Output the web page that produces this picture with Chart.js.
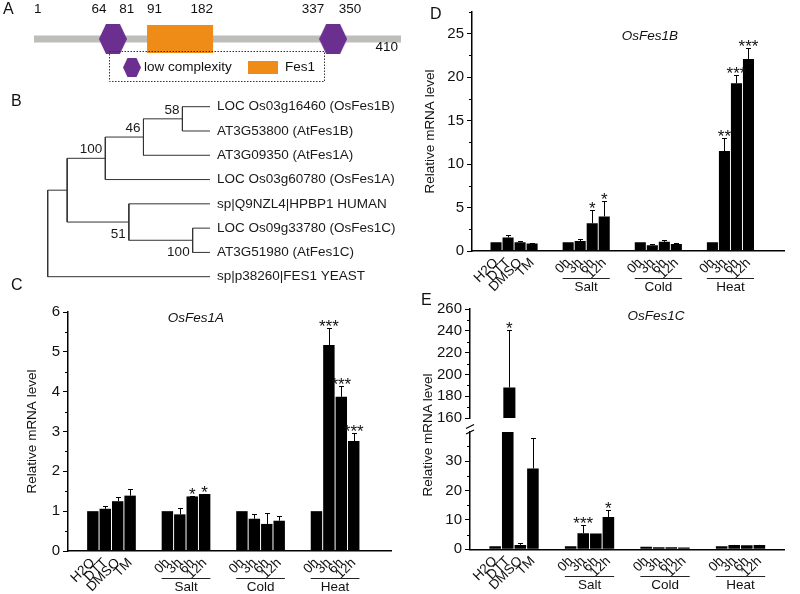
<!DOCTYPE html>
<html>
<head>
<meta charset="utf-8">
<script src="https://cdn.jsdelivr.net/npm/chart.js@4.4.1/dist/chart.umd.min.js"></script>
<style>
  html, body { margin: 0; padding: 0; background: #fff; }
  body { position: relative; width: 800px; height: 594px; overflow: hidden; font-family: 'Liberation Sans', Arial, sans-serif; color: #111; }
  canvas { position: absolute; }
  .panel { position: absolute; font-size: 16px; line-height: 16px; }
  .gene { position: absolute; font-size: 13.5px; font-style: italic; line-height: 16px; white-space: nowrap; transform: translate(-50%, -50%); }
  .ylab { position: absolute; font-size: 13.5px; line-height: 16px; white-space: nowrap; transform: translate(-50%, -50%) rotate(-90deg); }
</style>
</head>
<body>
<canvas id="chartA" width="420" height="90" style="left:0;top:0"></canvas>
<canvas id="chartB" width="420" height="212" style="left:0;top:88px"></canvas>
<canvas id="chartC" width="420" height="294" style="left:0;top:300px"></canvas>
<canvas id="chartD" width="390" height="300" style="left:410px;top:0"></canvas>
<canvas id="chartEtop" width="390" height="135" style="left:410px;top:295px"></canvas>
<canvas id="chartE" width="390" height="174" style="left:410px;top:420px"></canvas>

<div class="panel" style="left:3px;top:1px">A</div>
<div class="panel" style="left:11px;top:93px">B</div>
<div class="panel" style="left:11px;top:277px">C</div>
<div class="panel" style="left:430px;top:6px">D</div>
<div class="panel" style="left:421px;top:292px">E</div>

<div class="gene" style="left:196px;top:318px">OsFes1A</div>
<div class="gene" style="left:650px;top:36px">OsFes1B</div>
<div class="gene" style="left:656px;top:316px">OsFes1C</div>
<div class="ylab" style="left:428px;top:435px">Relative mRNA level</div>

<script>
const FONT = "'Liberation Sans', Arial, sans-serif";

// ---- A: protein domains ----
const proteinLength = 410;
const fes1Domain = [91, 182];
const lowComplexity = [[64, 81], [337, 350]];
const residueTicks = [1, 64, 81, 91, 182, 337, 350];

// ---- B: tree ----
const leafNames = [
    'LOC Os03g16460 (OsFes1B)', 'AT3G53800 (AtFes1B)', 'AT3G09350 (AtFes1A)',
    'LOC Os03g60780 (OsFes1A)', 'sp|Q9NZL4|HPBP1 HUMAN', 'LOC Os09g33780 (OsFes1C)',
    'AT3G51980 (AtFes1C)', 'sp|p38260|FES1 YEAST'
];
// children are leaf indexes or node keys, depth in branch units (root 0, tips 100)
const treeNodes = [
    { key: 'n58', kids: [0, 1], depth: 83, support: '58' },
    { key: 'n46', kids: ['n58', 2], depth: 59, support: '46' },
    { key: 'n100a', kids: ['n46', 3], depth: 35.5, support: '100' },
    { key: 'n100b', kids: [5, 6], depth: 89.3, support: '100', below: true },
    { key: 'n51', kids: [4, 'n100b'], depth: 50, support: '51', below: true },
    { key: 'nIn', kids: ['n100a', 'n51'], depth: 12, support: '' },
    { key: 'root', kids: ['nIn', 7], depth: 0, support: '' }
];

// ---- C, D, E: qRT-PCR ----
const treatLabels = ['H2O', 'DTT', 'DMSO', 'TM'];
const timeLabels = ['0h', '3h', '6h', '12h'];
const stressLabels = ['Salt', 'Cold', 'Heat'];

// order: H2O DTT DMSO TM | Salt 0h 3h 6h 12h | Cold ... | Heat ...
const fes1aMean = [1.00, 1.06, 1.25, 1.39, 1.00, 0.92, 1.37, 1.43, 1.00, 0.81, 0.68, 0.76, 1.00, 5.17, 3.87, 2.76];
const fes1aErr  = [1.00, 1.12, 1.36, 1.56, 1.00, 1.08, 1.39, 1.44, 1.00, 0.93, 0.95, 0.89, 1.00, 5.59, 4.15, 2.95];
const fes1aSig  = ['', '', '', '', '', '', '*', '*', '', '', '', '', '', '***', '***', '***'];

const fes1bMean = [1.00, 1.55, 1.00, 0.85, 1.00, 1.15, 3.20, 3.98, 1.00, 0.65, 1.05, 0.80, 1.00, 11.5, 19.3, 22.1];
const fes1bErr  = [1.00, 1.80, 1.10, 0.95, 1.00, 1.35, 4.75, 5.75, 1.00, 0.75, 1.30, 0.90, 1.00, 13.0, 20.2, 23.4];
const fes1bSig  = ['', '', '', '', '', '', '*', '*', '', '', '', '', '', '**', '***', '***'];

const fes1cMean = [1.0, 188, 1.5, 27.5, 1.0, 5.5, 5.4, 11.0, 0.9, 0.7, 0.7, 0.6, 1.0, 1.5, 1.4, 1.5];
const fes1cErr  = [1.0, 241, 2.1, 37.8, 1.0, 8.3, 5.4, 13.4, 0.9, 0.7, 0.7, 0.6, 1.0, 1.6, 1.4, 1.6];
const fes1cSig  = ['', '*', '', '', '', '***', '', '*', '', '', '', '', '', '', '', ''];

Chart.defaults.font.family = FONT;
Chart.defaults.font.size = 13.5;
Chart.defaults.color = '#111';
Chart.defaults.animation = false;
Chart.defaults.responsive = false;
Chart.defaults.devicePixelRatio = 1;
Chart.defaults.events = [];
Chart.defaults.plugins.legend.display = false;
Chart.defaults.plugins.tooltip.enabled = false;

// the domain drawing is schematic, not to scale: residues are spread piecewise along the bar
const schematicResidues = [1, 64, 81, 91, 182, 337, 350, 410];
const schematicStops = [0, 0.177, 0.253, 0.308, 0.488, 0.777, 0.853, 1];

class SchematicScale extends Chart.LinearScale {
    getPixelForValue(v) {
        const r = schematicResidues, f = schematicStops;
        let i = 0;
        while (i < r.length - 2 && v > r[i + 1]) i++;
        const t = f[i] + (v - r[i]) / (r[i + 1] - r[i]) * (f[i + 1] - f[i]);
        return this.getPixelForDecimal(t);
    }
}
SchematicScale.id = 'schematic';
SchematicScale.defaults = Chart.LinearScale.defaults;
Chart.register(SchematicScale);

function hexagon(w, h, color) {
    const c = document.createElement('canvas');
    c.width = w; c.height = h;
    const g = c.getContext('2d');
    g.fillStyle = color;
    g.beginPath();
    g.moveTo(0, h / 2); g.lineTo(w * 0.25, 0); g.lineTo(w * 0.75, 0);
    g.lineTo(w, h / 2); g.lineTo(w * 0.75, h); g.lineTo(w * 0.25, h);
    g.closePath(); g.fill();
    return c;
}

const purple = '#6b2f90';
const orange = '#ef8b17';
const backbone = '#bdbdb9';

const residueAlign = ['left', 'center', 'center', 'left', 'right', 'right', 'center'];
const residueShift = [0, 0, 0, 0, 0, 5, 3];

const domainText = {
    id: 'domainText',
    afterDraw(chart) {
        const ctx = chart.ctx, x = chart.scales.x;
        ctx.save();
        ctx.font = '13.5px ' + FONT;
        ctx.fillStyle = '#111';
        ctx.textBaseline = 'middle';
        residueTicks.forEach((r, i) => {
            ctx.textAlign = residueAlign[i];
            ctx.fillText(String(r), x.getPixelForValue(r) + residueShift[i], 9);
        });
        ctx.textAlign = 'right';
        ctx.fillText(String(proteinLength), x.getPixelForValue(proteinLength) - 3, 47);

        // legend box
        ctx.strokeStyle = '#333';
        ctx.lineWidth = 1;
        ctx.setLineDash([1.5, 1.5]);
        ctx.strokeRect(109.5, 51.5, 215, 30);
        ctx.setLineDash([]);
        ctx.drawImage(hexagon(18, 19, purple), 123, 58);
        ctx.textAlign = 'left';
        ctx.fillText('low complexity', 144, 67);
        ctx.fillStyle = orange;
        ctx.fillRect(248, 61, 30, 13);
        ctx.fillStyle = '#111';
        ctx.fillText('Fes1', 285, 67);
        ctx.restore();
    }
};

new Chart(document.getElementById('chartA'), {
    type: 'line',
    data: {
        datasets: [
            {
                data: lowComplexity.map(r => ({ x: (r[0] + r[1]) / 2, y: 0 })),
                showLine: false,
                pointStyle: hexagon(28, 30, purple),
                pointRadius: 14,
                order: 1,
                clip: false
            },
            {
                data: fes1Domain.map(v => ({ x: v, y: 0 })),
                borderColor: orange,
                borderWidth: 28,
                borderCapStyle: 'butt',
                pointRadius: 0,
                order: 2,
                clip: false
            },
            {
                data: [{ x: 1, y: 0 }, { x: proteinLength, y: 0 }],
                borderColor: backbone,
                borderWidth: 7,
                borderCapStyle: 'butt',
                pointRadius: 0,
                order: 3,
                clip: false
            }
        ]
    },
    options: {
        layout: { padding: { left: 34, right: 19, top: 3, bottom: 27 } },
        scales: {
            x: { type: 'schematic', min: 1, max: proteinLength, display: false },
            y: { type: 'linear', min: -1, max: 1, display: false }
        }
    },
    plugins: [domainText]
});

// ---- B ----
const nodeY = {}, nodeDepth = {};
function posOf(k) {
    if (typeof k === 'number') return { x: 100, y: k };
    return { x: nodeDepth[k], y: nodeY[k] };
}
treeNodes.forEach(n => {
    nodeDepth[n.key] = n.depth;
    nodeY[n.key] = (posOf(n.kids[0]).y + posOf(n.kids[1]).y) / 2;
});
const treeSegments = [];
treeNodes.forEach(n => {
    const a = posOf(n.kids[0]), b = posOf(n.kids[1]);
    treeSegments.push({ x: n.depth, y: a.y }, { x: n.depth, y: b.y }, { x: null, y: null });
    [a, b].forEach(p => treeSegments.push({ x: n.depth, y: p.y }, { x: p.x, y: p.y }, { x: null, y: null }));
});

const treeText = {
    id: 'treeText',
    afterDraw(chart) {
        const ctx = chart.ctx, x = chart.scales.x, y = chart.scales.y;
        ctx.save();
        ctx.fillStyle = '#1a1a1a';
        ctx.font = '13.5px ' + FONT;
        ctx.textAlign = 'left';
        ctx.textBaseline = 'middle';
        leafNames.forEach((name, i) => ctx.fillText(name, x.getPixelForValue(100) + 7, y.getPixelForValue(i)));
        ctx.textAlign = 'right';
        treeNodes.forEach(n => {
            if (!n.support) return;
            const px = x.getPixelForValue(n.depth) - 3;
            const py = y.getPixelForValue(nodeY[n.key]);
            ctx.textBaseline = n.below ? 'top' : 'bottom';
            ctx.fillText(n.support, px, n.below ? py + 5 : py - 2);
        });
        ctx.restore();
    }
};

new Chart(document.getElementById('chartB'), {
    type: 'line',
    data: { datasets: [{ data: treeSegments, borderColor: '#333', borderWidth: 1, pointRadius: 0, spanGaps: false, clip: false }] },
    options: {
        layout: { padding: { left: 47.7, right: 210, top: 18.7, bottom: 23.3 } },
        scales: {
            x: { type: 'linear', min: 0, max: 100, display: false },
            y: { type: 'linear', min: 0, max: 7, reverse: true, display: false }
        }
    },
    plugins: [treeText]
});

// ---- bar charts ----
function slotLayout(lead, trail) {
    const labels = [], slots = [];
    for (let i = 0; i < lead; i++) labels.push('');
    treatLabels.forEach(t => { slots.push(labels.length); labels.push(t); });
    stressLabels.forEach(() => {
        labels.push('', '');
        timeLabels.forEach(t => { slots.push(labels.length); labels.push(t); });
    });
    for (let i = 0; i < trail; i++) labels.push('');
    return { labels, slots };
}

function barExtras(s, slots) {
    return {
        id: 'barExtras',
        afterDatasetsDraw(chart) {
            const { ctx, chartArea } = chart;
            const y = chart.scales.y;
            const bars = chart.getDatasetMeta(0).data;
            ctx.save();
            ctx.strokeStyle = '#000';
            ctx.fillStyle = '#111';
            ctx.lineWidth = 1;
            slots.forEach((slot, k) => {
                const m = s.mean[k], e = s.err[k];
                if (m < y.min || m > y.max) return;
                const bar = bars[slot];
                let top = y.getPixelForValue(m);
                if (e > m) {
                    const ey = Math.round(y.getPixelForValue(e)) + 0.5;
                    const lx = Math.round(bar.x) + 0.5;
                    ctx.beginPath();
                    ctx.moveTo(lx, top); ctx.lineTo(lx, ey);
                    ctx.moveTo(lx - 2.5, ey); ctx.lineTo(lx + 2.5, ey);
                    ctx.stroke();
                    top = ey;
                }
                if (s.sig[k]) {
                    ctx.font = '17px ' + FONT;
                    ctx.textAlign = 'center';
                    ctx.textBaseline = 'alphabetic';
                    ctx.fillText(s.sig[k], bar.x, top + 3);
                }
            });
            if (s.showX) {
                ctx.strokeStyle = '#222';
                ctx.font = '13.5px ' + FONT;
                ctx.textAlign = 'center';
                ctx.textBaseline = 'middle';
                stressLabels.forEach((g, gi) => {
                    const a = bars[slots[4 + gi * 4]], b = bars[slots[7 + gi * 4]];
                    const x0 = a.x - a.width / 2, x1 = b.x + b.width / 2;
                    const ly = Math.round(chartArea.bottom + 26.5) + 0.5;
                    ctx.beginPath(); ctx.moveTo(x0, ly); ctx.lineTo(x1, ly); ctx.stroke();
                    ctx.fillText(g, (x0 + x1) / 2, chartArea.bottom + 36);
                });
            }
            if (s.brk) {
                const L = chartArea.left, T = chartArea.top;
                ctx.strokeStyle = '#000';
                ctx.lineWidth = 1.2;
                ctx.beginPath();
                ctx.moveTo(L - 4, T - 3.5); ctx.lineTo(L + 4, T - 7.5);
                ctx.moveTo(L - 4, T + 2); ctx.lineTo(L + 4, T - 2);
                ctx.stroke();
            }
            ctx.restore();
        }
    };
}

function minorTicks(step, major) {
    return {
        id: 'minorTicks',
        afterDraw(chart) {
            const y = chart.scales.y, ctx = chart.ctx;
            const x0 = y.right;
            ctx.save();
            ctx.strokeStyle = '#000';
            ctx.lineWidth = 1;
            for (let v = y.min; v <= y.max + 1e-9; v += step) {
                const r = v / major;
                if (Math.abs(r - Math.round(r)) < 1e-6) continue;
                const py = Math.round(y.getPixelForValue(v)) + 0.5;
                ctx.beginPath(); ctx.moveTo(x0 - 3, py); ctx.lineTo(x0, py); ctx.stroke();
            }
            ctx.restore();
        }
    };
}

function barChart(id, s) {
    const { labels, slots } = slotLayout(s.lead, s.trail);
    const values = labels.map(() => null);
    slots.forEach((slot, k) => { values[slot] = s.mean[k]; });
    return new Chart(document.getElementById(id), {
        type: 'bar',
        data: {
            labels: labels,
            datasets: [{ data: values, backgroundColor: '#000', barPercentage: 0.92, categoryPercentage: 1 }]
        },
        options: {
            layout: { padding: s.pad },
            scales: {
                x: {
                    display: s.showX,
                    offset: false,
                    grid: { display: false, drawTicks: false, offset: false },
                    border: { color: '#000', width: 1.5 },
                    ticks: { autoSkip: false, minRotation: 45, maxRotation: 45, padding: 4, color: '#111', font: { size: 13.5 } },
                    afterFit: sc => { if (s.xHeight) sc.height = s.xHeight; }
                },
                y: {
                    min: s.min,
                    max: s.max,
                    grid: { drawOnChartArea: false, tickLength: 5, color: '#000', tickWidth: 1 },
                    border: { color: '#000', width: 1.5 },
                    ticks: { stepSize: s.step, includeBounds: false, padding: 3, color: '#111', font: { size: 15 } },
                    title: s.titlePad !== undefined
                        ? { display: true, text: 'Relative mRNA level', color: '#111', font: { size: 13.5 }, padding: { top: s.titlePad, bottom: 0 } }
                        : { display: false },
                    afterFit: sc => { sc.width = s.yWidth; }
                }
            }
        },
        plugins: [barExtras(s, slots), minorTicks(s.minor, s.step)]
    });
}

barChart('chartC', {
    mean: fes1aMean, err: fes1aErr, sig: fes1aSig,
    min: 0, max: 6, step: 1, minor: 0.5,
    lead: 2, trail: 3, showX: true,
    pad: { left: 0, right: 29, top: 11, bottom: 0 },
    yWidth: 68, xHeight: 43, titlePad: 24
});

barChart('chartD', {
    mean: fes1bMean, err: fes1bErr, sig: fes1bSig,
    min: 0, max: 27.5, step: 5, minor: 2.5,
    lead: 2, trail: 3, showX: true,
    pad: { left: 0, right: 3.3, top: 10.7, bottom: 0 },
    yWidth: 62, xHeight: 49, titlePad: 12
});

barChart('chartEtop', {
    mean: fes1cMean, err: fes1cErr, sig: fes1cSig,
    min: 160, max: 260, step: 20, minor: 10,
    lead: 2, trail: 2, showX: false,
    pad: { left: 0, right: 2, top: 14, bottom: 3.3 },
    yWidth: 60
});

barChart('chartE', {
    mean: fes1cMean, err: fes1cErr, sig: fes1cSig,
    min: 0, max: 39.9, step: 10, minor: 5,
    lead: 2, trail: 2, showX: true, brk: true,
    pad: { left: 0, right: 2, top: 11.7, bottom: 0 },
    yWidth: 60, xHeight: 44.7
});
</script>
</body>
</html>
